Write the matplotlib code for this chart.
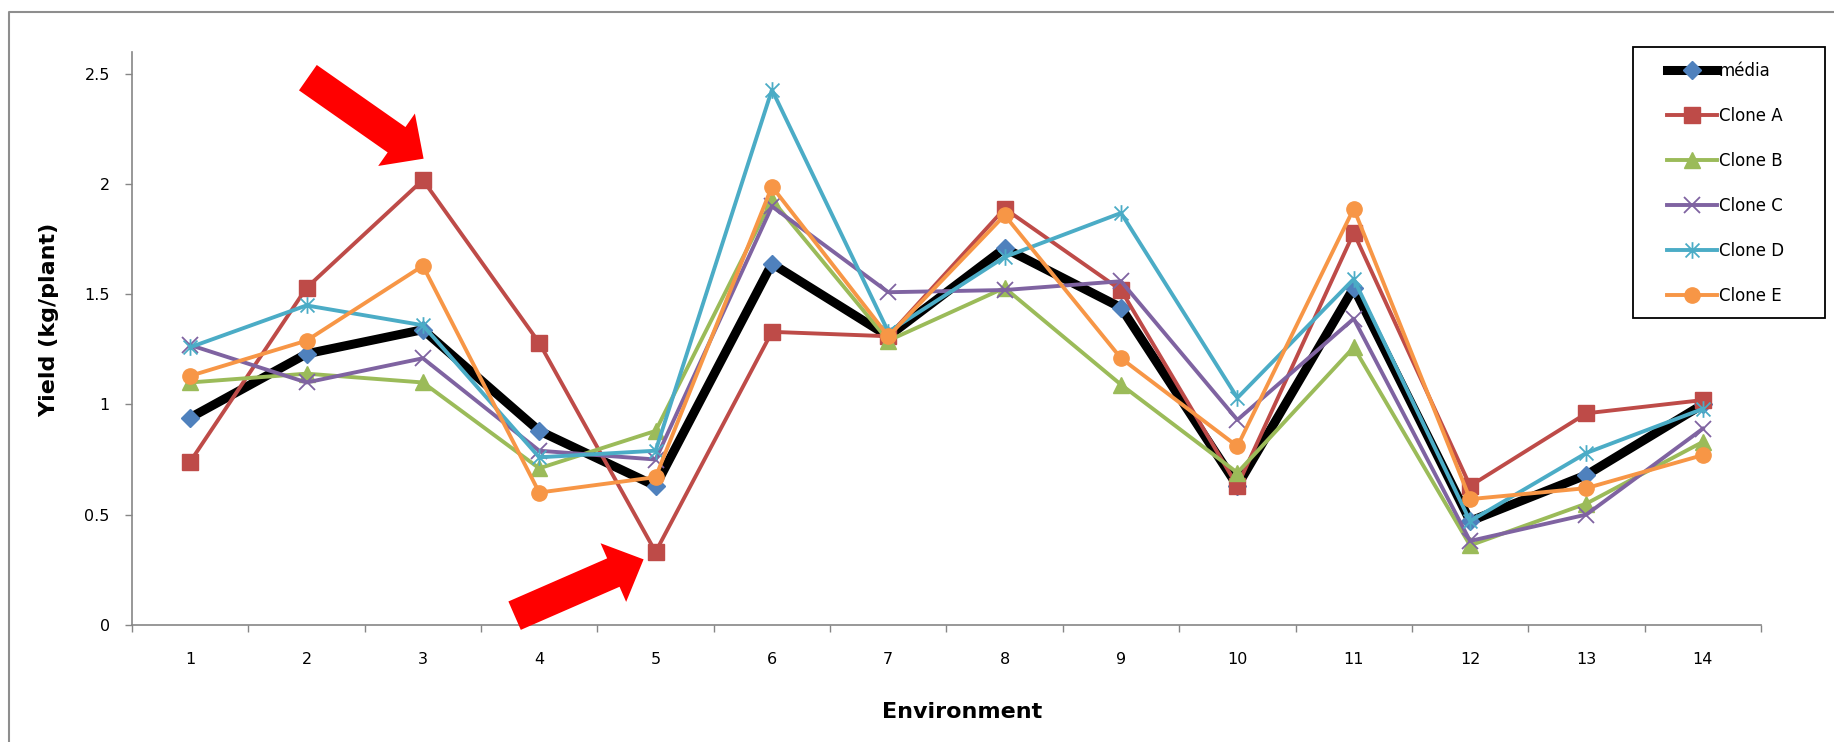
import matplotlib
matplotlib.use('Agg')
import matplotlib.pyplot as plt
from matplotlib.patches import FancyArrow, Rectangle
from matplotlib.lines import Line2D
from matplotlib.path import Path
from matplotlib.transforms import IdentityTransform

environments = list(range(1, 15))
env_labels = [str(e) for e in environments]

media = [0.94, 1.23, 1.34, 0.88, 0.63, 1.64, 1.31, 1.71, 1.44, 0.63, 1.53, 0.47, 0.68, 1.00]
clone_a = [0.74, 1.53, 2.02, 1.28, 0.33, 1.33, 1.31, 1.89, 1.52, 0.63, 1.78, 0.63, 0.96, 1.02]
clone_b = [1.10, 1.14, 1.10, 0.71, 0.88, 1.93, 1.29, 1.53, 1.09, 0.69, 1.26, 0.36, 0.55, 0.83]
clone_c = [1.27, 1.10, 1.21, 0.79, 0.75, 1.90, 1.51, 1.52, 1.56, 0.93, 1.39, 0.38, 0.50, 0.89]
clone_d = [1.26, 1.45, 1.36, 0.76, 0.79, 2.43, 1.33, 1.67, 1.87, 1.03, 1.57, 0.47, 0.78, 0.98]
clone_e = [1.13, 1.29, 1.63, 0.60, 0.67, 1.99, 1.31, 1.86, 1.21, 0.81, 1.89, 0.57, 0.62, 0.77]

y_ticks = [0, 0.5, 1, 1.5, 2, 2.5]
y_tick_labels = ['0', '0.5', '1', '1.5', '2', '2.5']

# excel style "star" marker: an x with a vertical bar through it
star = Path([(-1, -1), (1, 1), (-1, 1), (1, -1), (0, -1.2), (0, 1.2)],
            [Path.MOVETO, Path.LINETO, Path.MOVETO, Path.LINETO, Path.MOVETO, Path.LINETO])

series = [
    ('média', media, dict(color='black', lw=6.5, marker='D', ms=9, mfc='#4F81BD', mec='#4F81BD')),
    ('Clone A', clone_a, dict(color='#BE4B48', lw=2.8, marker='s', ms=11)),
    ('Clone B', clone_b, dict(color='#9BBB59', lw=2.8, marker='^', ms=11)),
    ('Clone C', clone_c, dict(color='#7F63A1', lw=2.8, marker='x', ms=11, mew=1.3)),
    ('Clone D', clone_d, dict(color='#4BACC6', lw=2.8, marker=star, ms=12, mew=1.3)),
    ('Clone E', clone_e, dict(color='#F79646', lw=2.8, marker='o', ms=11)),
]

axis_grey = '#868686'

fig = plt.figure(figsize=(18.34, 7.42), dpi=100)
ax = fig.add_axes([0.07197, 0.15822, 0.88822, 0.77129])

for name, values, style in series:
    ax.plot(environments, values, label=name, **style)

ax.set_xlim(0.5, 14.5)
ax.set_ylim(0, 2.6)

# tick marks sit on category boundaries, labels in the middle
ax.set_xticks([e - 0.5 for e in environments] + [14.5])
ax.set_xticklabels([])
ax.set_xticks(environments, minor=True)
ax.set_xticklabels(env_labels, minor=True, fontsize=11.5)
ax.tick_params(axis='x', which='major', length=5, width=1, color=axis_grey, direction='out')
ax.tick_params(axis='x', which='minor', length=0, pad=19.5)

ax.set_yticks(y_ticks)
ax.set_yticklabels(y_tick_labels, fontsize=11.5)
ax.tick_params(axis='y', length=5, width=1, color=axis_grey, direction='out', pad=11)

for side in ('top', 'right'):
    ax.spines[side].set_visible(False)
for side in ('left', 'bottom'):
    ax.spines[side].set_color(axis_grey)
    ax.spines[side].set_linewidth(1.2)

ax.set_ylabel('Yield (kg/plant)', fontsize=16, fontweight='bold', va='center')
ax.yaxis.set_label_coords(-0.051, 0.532)
ax.set_xlabel('Environment', fontsize=16, fontweight='bold', va='center')
ax.xaxis.set_label_coords(0.5095, -0.1527)

# legend without its own frame, boxed separately
ax.legend(loc='upper left', bbox_to_anchor=(1667 / 1834, 1 - 62 / 742),
          bbox_transform=fig.transFigure, frameon=False, borderpad=0, borderaxespad=0,
          fontsize=12, handlelength=3.0, handletextpad=0.12, labelspacing=1.62)
fig.patches.append(Rectangle((1633 / 1834, 1 - 318 / 742), 192 / 1834, 271 / 742,
                             transform=fig.transFigure, fill=False, edgecolor='black', lw=1.3))

# chart area border (only top and left are inside the image)
fig.add_artist(Line2D([9 / 1834, 9 / 1834, 1.0], [0.0, 1 - 11.7 / 742, 1 - 11.7 / 742],
                      transform=fig.transFigure, color='#8E8E8E', lw=1.5))

# red arrows pointing at the best and worst Clone A environments
fig.canvas.draw()
for env, (tip_dx, tip_dy), (tail_dx, tail_dy) in [(3, (0.7, 21.3), (-115.7, 81.0)),
                                                   (5, (-12.0, -7.4), (-129.0, -56.3))]:
    px, py = ax.transData.transform((env, clone_a[env - 1]))
    tip_x, tip_y = px + tip_dx, py + tip_dy
    arrow = FancyArrow(tip_x + tail_dx, tip_y + tail_dy, -tail_dx, -tail_dy,
                       width=31, head_width=64, head_length=33, length_includes_head=True,
                       transform=IdentityTransform(), color='red', lw=0, zorder=10)
    fig.add_artist(arrow)

fig.savefig('out.png', dpi=100)
